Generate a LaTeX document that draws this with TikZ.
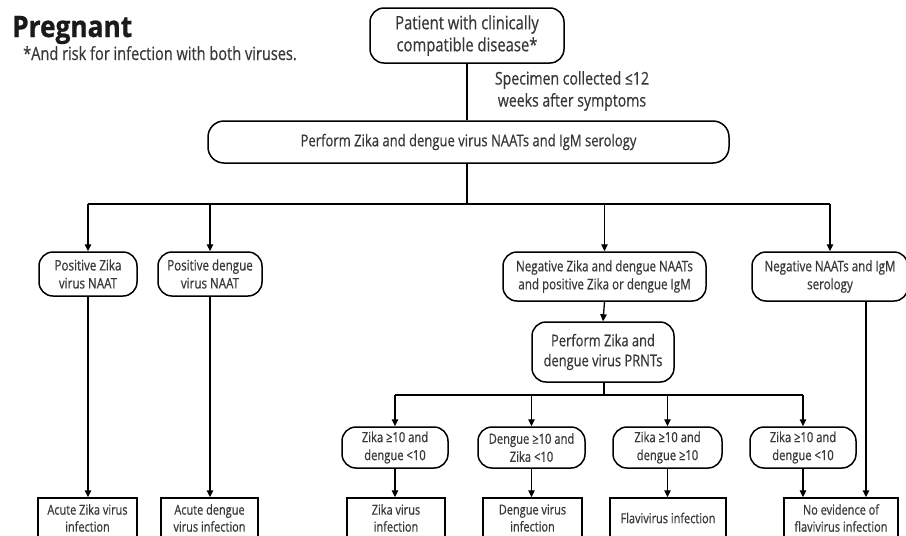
\documentclass[tikz,border=0pt]{standalone}
\usepackage{fontspec}
\setmainfont[FakeStretch=0.8, FakeBold=0.5]{Open Sans}
\newfontfamily\titlefont[FakeStretch=0.89, FakeBold=0.8]{Open Sans}
\usetikzlibrary{arrows.meta}
\definecolor{txt}{HTML}{383838}
\definecolor{ttl}{HTML}{1A1A1A}
\tikzset{
  rbox/.style={draw=black, line width=1.5pt, rounded corners=14pt, align=center,
    text=txt, inner sep=0pt, font=\fontsize{14.5}{18}\selectfont},
  sbox/.style={draw=black, line width=1.5pt, align=center, text=txt, inner sep=0pt,
    font=\fontsize{13.7}{17}\selectfont},
  conn/.style={draw=black, line width=1.3pt},
  arr/.style={conn, -{Triangle[length=7pt,width=6.5pt]}},
}
\begin{document}
\begin{tikzpicture}[x=1pt,y=-1pt]
\useasboundingbox (0,0) rectangle (906,536);
\clip (0,0) rectangle (906,536);
\fill[white] (0,0) rectangle (906,536);

% title
\node[anchor=base west, inner sep=0pt, text=ttl, font=\titlefont\fontsize{29.5}{30}\selectfont\bfseries] (title) at (12,37) {Pregnant};
\node[anchor=base west, inner sep=0pt, text=txt, font=\fontsize{18.2}{18}\selectfont] (foot) at (23,60) {*And risk for infection with both viruses.};

% top
\node[rbox, minimum width=194pt, minimum height=55pt, font=\fontsize{18.5}{22}\selectfont] (top) at (467,35.5) {Patient with clinically\\compatible disease*};
\node[align=center, inner sep=0pt, text=txt, font=\fontsize{17.6}{22}\selectfont] (spec) at (572,91) {Specimen collected ≤12\\weeks after symptoms};
\node[rbox, minimum width=521pt, minimum height=42pt, rounded corners=16pt, font=\fontsize{16.3}{18}\selectfont] (big) at (468.5,142) {Perform Zika and dengue virus NAATs and IgM serology};

% row 2
\node[rbox, minimum width=98pt, minimum height=44pt] (pz) at (88,274) {Positive Zika\\virus NAAT};
\node[rbox, minimum width=104pt, minimum height=44pt] (pd) at (210,274) {Positive dengue\\virus NAAT};
\node[rbox, minimum width=203pt, minimum height=49pt] (n1) at (604.5,276.5) {Negative Zika and dengue NAATs\\and positive Zika or dengue IgM};
\node[rbox, minimum width=156pt, minimum height=49pt] (n2) at (830,276.5) {Negative NAATs and IgM\\serology};

% PRNT
\node[rbox, minimum width=142pt, minimum height=60pt, font=\fontsize{16.1}{20}\selectfont] (prnt) at (603,352) {Perform Zika and\\dengue virus PRNTs};

% row 4
\node[rbox, minimum width=106pt, minimum height=41pt, font=\fontsize{14}{18}\selectfont] (r1) at (395,447.5) {Zika ≥10 and\\dengue <10};
\node[rbox, minimum width=107pt, minimum height=41pt, font=\fontsize{14}{18}\selectfont] (r2) at (531.5,447.5) {Dengue ≥10 and\\Zika <10};
\node[rbox, minimum width=109pt, minimum height=41pt, font=\fontsize{14}{18}\selectfont] (r3) at (667.5,447.5) {Zika ≥10 and\\dengue ≥10};
\node[rbox, minimum width=106pt, minimum height=41pt, font=\fontsize{14}{18}\selectfont] (r4) at (803,447.5) {Zika ≥10 and\\dengue <10};

% bottom
\node[sbox, minimum width=99pt, minimum height=40pt] (b1) at (87.5,518) {Acute Zika virus\\infection};
\node[sbox, minimum width=97pt, minimum height=40pt] (b2) at (209.5,518) {Acute dengue\\virus infection};
\node[sbox, minimum width=98pt, minimum height=40pt] (b3) at (396,518) {Zika virus\\infection};
\node[sbox, minimum width=99pt, minimum height=40pt] (b4) at (532.5,518) {Dengue virus\\infection};
\node[sbox, minimum width=116pt, minimum height=40pt] (b5) at (668,518) {Flavivirus infection};
\node[sbox, minimum width=114pt, minimum height=40pt] (b6) at (841,518) {No evidence of\\flavivirus infection};

% junctions
\coordinate (j1) at (467,204);
\coordinate (j2) at (604,395);

% connectors
\draw[conn] (top.south) -- (top.south |- big.north);
\draw[conn] (big.south -| j1) -- (j1);
\draw[conn] (pz.north |- j1) -- (n2.north |- j1);
\draw[arr] (pz.north |- j1) -- (pz.north);
\draw[arr] (pd.north |- j1) -- (pd.north);
\draw[arr] (n1.north |- j1) -- (n1.north);
\draw[arr] (n2.north |- j1) -- (n2.north);

\draw[arr] (n1.south) -- (prnt.north);
\draw[conn] (prnt.south -| j2) -- (j2);
\draw[conn] (r1.north |- j2) -- (r4.north |- j2);
\draw[arr] (r1.north |- j2) -- (r1.north);
\draw[arr] (r2.north |- j2) -- (r2.north);
\draw[arr] (r3.north |- j2) -- (r3.north);
\draw[arr] (r4.north |- j2) -- (r4.north);

\draw[arr] (pz.south) -- (pz.south |- b1.north);
\draw[arr] (pd.south) -- (pd.south |- b2.north);
\draw[arr] (r1.south) -- (r1.south |- b3.north);
\draw[arr] (r2.south) -- (r2.south |- b4.north);
\draw[arr] (r3.south) -- (r3.south |- b5.north);
\draw[arr] (r4.south) -- (r4.south |- b6.north);
\coordinate (n2d) at (866,0);
\draw[arr] (n2d |- n2.south) -- (n2d |- b6.north);
\end{tikzpicture}
\end{document}
